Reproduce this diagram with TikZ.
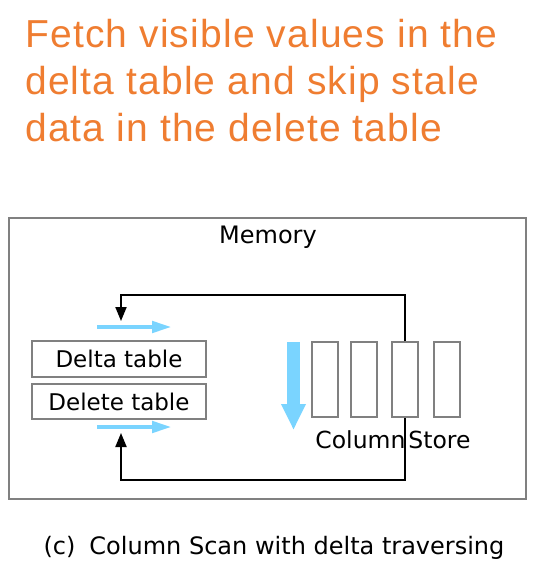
\documentclass[tikz,border=0pt]{standalone}
\usepackage{fontspec}
\setmainfont{DejaVu Sans}
\newfontfamily\titlefont[LetterSpace=3]{Liberation Sans}
\usepackage{tikz}
\usetikzlibrary{arrows.meta,positioning,calc}
\definecolor{titlecolor}{RGB}{239,125,49}
\definecolor{scancolor}{RGB}{122,212,255}
\definecolor{boxgray}{RGB}{128,128,128}

\begin{document}
\begin{tikzpicture}[
    x=1pt, y=-1pt,
    label/.style={inner sep=0pt, font=\fontsize{23}{27}\selectfont},
    titleline/.style={anchor=base west, inner sep=0pt, text=titlecolor, font=\titlefont\fontsize{39}{47}\selectfont},
    memorybox/.style={rectangle, draw=boxgray, line width=2pt, minimum width=517pt, minimum height=281pt},
    tablebox/.style={rectangle, draw=boxgray, line width=2pt, minimum width=174pt, minimum height=35pt, label},
    colbox/.style={rectangle, draw=boxgray, line width=2pt, fill=white, minimum width=26pt, minimum height=75pt},
    blackarrow/.style={-{Triangle[length=14pt,width=11pt]}, line width=2pt},
    scanarrow/.style={-{Triangle[length=20pt,width=11pt]}, line width=4.5pt, scancolor},
    downarrow/.style={-{Triangle[length=26pt,width=23pt]}, line width=13pt, scancolor}
]
\useasboundingbox (0,0) rectangle (536,568);

% Title
\node[titleline] (title1) at (25,47) {Fetch visible values in the};
\node[titleline] (title2) at (25,94) {delta table and skip stale};
\node[titleline] (title3) at (25,141) {data in the delete table};

% Memory
\node[memorybox] (memory) at (267.5,358.5) {};
\node[label, font=\fontsize{24}{28}\selectfont] (memlabel) at (268,237) {Memory};

% Delta and delete tables
\node[tablebox, minimum height=36pt] (delta) at (119,359) {Delta table};
\node[tablebox] (delete) at (119,401.5) {Delete table};

% Column store
\coordinate (topturn) at (121,295);
\coordinate (topin) at (121,321);
\coordinate (botturn) at (121,480);
\coordinate (botin) at (121,433);
\draw[line width=2pt] (405,342) -- (405,417);
\foreach \i/\x in {1/325,2/364,3/405,4/447}
    \node[colbox] (col\i) at (\x,379.5) {};
\node[label, font=\fontsize{23.5}{28}\selectfont] (colstore) at (393,440) {Column\hspace{3pt}Store};

% Scan arrows
\draw[scanarrow] (97,327) -- (172,327);
\draw[scanarrow] (97,427) -- (172,427);
\draw[downarrow] (293.5,342) -- (293.5,430);

% Traversal arrows
\draw[blackarrow] (col3.north) |- (topturn) -- (topin);
\draw[blackarrow] (col3.south) |- (botturn) -- (botin);

% Caption
\node[label, font=\fontsize{24}{28}\selectfont] (caption) at (274,548) {(c)\hspace{14pt}Column Scan with delta traversing};

\end{tikzpicture}
\end{document}
